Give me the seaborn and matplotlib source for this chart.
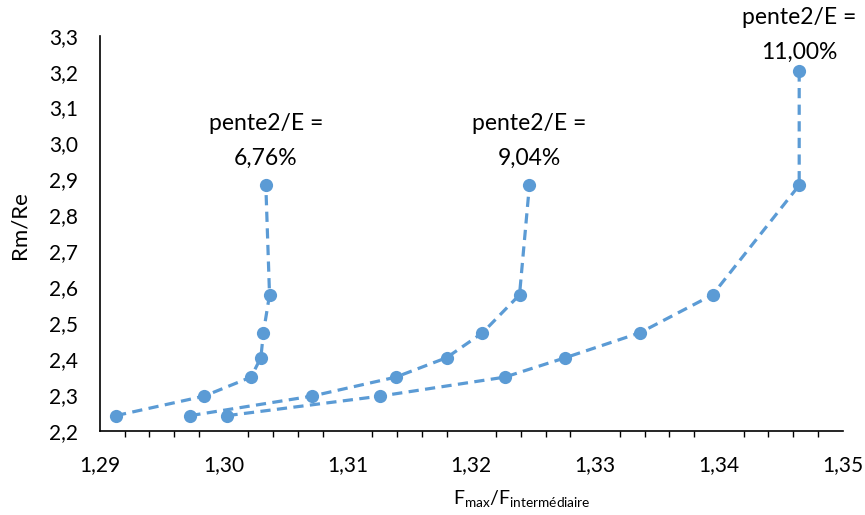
import matplotlib
matplotlib.use("Agg")
import matplotlib.pyplot as plt
import seaborn as sns
import pandas as pd
from matplotlib.ticker import MultipleLocator, FuncFormatter

sns.set_theme(style="white")
plt.rcParams['font.family'] = ['Lato', 'DejaVu Sans']
plt.rcParams['mathtext.fontset'] = 'custom'
plt.rcParams['mathtext.rm'] = 'Lato'

# Data
rm_re_a = [2.243, 2.297, 2.350, 2.404, 2.473, 2.579, 2.884]
f_ratio_a = [1.2913, 1.2984, 1.3022, 1.3030, 1.3032, 1.3037, 1.3034]

rm_re_b = [2.243, 2.297, 2.350, 2.404, 2.473, 2.579, 2.884]
f_ratio_b = [1.2973, 1.3071, 1.3139, 1.3180, 1.3209, 1.3239, 1.3247]

rm_re_c = [2.243, 2.297, 2.350, 2.404, 2.473, 2.579, 2.884, 3.202]
f_ratio_c = [1.3003, 1.3126, 1.3227, 1.3276, 1.3336, 1.3395, 1.3465, 1.3465]

series_labels = ["pente2/E =\n6,76%", "pente2/E =\n9,04%", "pente2/E =\n11,00%"]

frames = []
for name, xs, ys in [("a", f_ratio_a, rm_re_a), ("b", f_ratio_b, rm_re_b), ("c", f_ratio_c, rm_re_c)]:
    frames.append(pd.DataFrame({"x": xs, "y": ys, "s": name, "order": range(len(xs))}))
df = pd.concat(frames, ignore_index=True)

color = "#5B9BD5"
fig = plt.figure(figsize=(8.65, 5.15), dpi=100)
ax = fig.add_axes([0.1156, 0.163, 0.8584, 0.7677])

for name in ["a", "b", "c"]:
    sub = df[df.s == name]
    sns.lineplot(data=sub, x="x", y="y", sort=False, ax=ax, color=color,
                 linewidth=2.3, linestyle=(0, (3.2, 2.0)), marker="o",
                 markersize=9.5, markeredgewidth=0, estimator=None)

# Data labels above top points
offsets = [12, 12, 6]
for name, lab, off in zip(["a", "b", "c"], series_labels, offsets):
    sub = df[df.s == name]
    top = sub.loc[sub.y.idxmax()]
    ax.annotate(lab, (top.x, top.y), xytext=(0, off), textcoords="offset points",
                ha="center", va="bottom", fontsize=16.5, color="#000000",
                linespacing=1.8, annotation_clip=False)

ax.set_xlim(1.29, 1.35)
ax.set_ylim(2.2, 3.3)
ax.xaxis.set_major_locator(MultipleLocator(0.01))
ax.xaxis.set_minor_locator(MultipleLocator(0.002))
ax.yaxis.set_major_locator(MultipleLocator(0.1))
ax.xaxis.set_major_formatter(FuncFormatter(lambda v, p: f"{v:.2f}".replace(".", ",")))
ax.yaxis.set_major_formatter(FuncFormatter(lambda v, p: f"{v:.1f}".replace(".", ",")))

for side in ["top", "right"]:
    ax.spines[side].set_visible(False)
for side in ["left", "bottom"]:
    ax.spines[side].set_color("#000000")
    ax.spines[side].set_linewidth(1.2)

ax.tick_params(axis="both", which="major", direction="out", length=5, width=1.2,
               color="#000000", labelsize=15, labelcolor="#000000")
ax.tick_params(axis="x", which="minor", direction="out", length=4, width=1.0,
               color="#000000", bottom=True)
ax.tick_params(axis="x", which="major", pad=12)
ax.tick_params(axis="y", which="major", pad=11)

ax.set_xlabel("F$_{\\mathregular{max}}$/F$_{\\mathregular{intermédiaire}}$", fontsize=14, color="#000000")
ax.xaxis.set_label_coords(0.568, -0.145)
ax.set_ylabel("Rm/Re", fontsize=16, color="#000000")
ax.yaxis.set_label_coords(-0.095, 0.52)

ax.grid(False)
fig.savefig("out.png", dpi=100)
